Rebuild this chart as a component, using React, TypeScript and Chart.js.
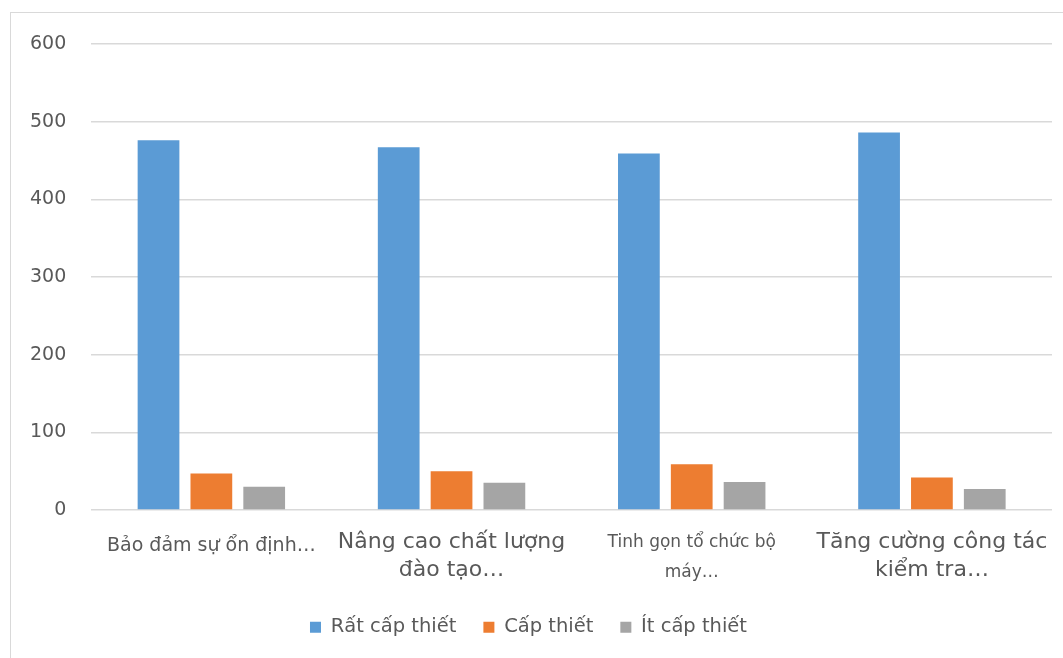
import React, { useEffect, useRef } from "react";
import { Chart, registerables } from "chart.js";

Chart.register(...registerables);

const categories: (string | string[])[] = [
  "Bảo đảm sự ổn định…",
  ["Nâng cao chất lượng", "đào tạo…"],
  ["Tinh gọn tổ chức bộ", "máy…"],
  ["Tăng cường công tác", "kiểm tra…"],
];
const labelSizes = [19, 22, 17, 22];
const labelLineHeights = [1.9, 1.28, 1.75, 1.28];
const seriesNames = ["Rất cấp thiết", "Cấp thiết", "Ít cấp thiết"];
const veryNeeded = [476, 467, 459, 486];
const needed = [47, 50, 59, 42];
const lessNeeded = [30, 35, 36, 27];
const colors = ["#5B9BD5", "#ED7D31", "#A5A5A5"];

export default function App() {
  const ref = useRef<HTMLCanvasElement | null>(null);
  useEffect(() => {
    if (!ref.current) return;
    const font = "'DejaVu Sans', sans-serif";
    const chart = new Chart(ref.current, {
      type: "bar",
      data: {
        labels: categories,
        datasets: [veryNeeded, needed, lessNeeded].map((d, i) => ({
          label: seriesNames[i],
          data: d,
          backgroundColor: colors[i],
          borderWidth: 0,
          categoryPercentage: 0.66,
          barPercentage: 0.79,
        })),
      },
      options: {
        animation: false,
        responsive: false,
        maintainAspectRatio: false,
        layout: { padding: { top: 44, left: 5, right: 11, bottom: 11 } },
        plugins: {
          tooltip: { enabled: false },
          legend: {
            position: "bottom",
            labels: {
              boxWidth: 11,
              boxHeight: 11,
              padding: 27,
              color: "#595959",
              font: { family: font, size: 19.5 },
            },
          },
        },
        scales: {
          x: {
            grid: { display: false },
            border: { display: false },
            afterFit: (s: any) => {
              s.paddingLeft = 0;
              s.paddingRight = 0;
              s.height = 80.5;
            },
            ticks: {
              color: "#595959",
              maxRotation: 0,
              autoSkip: false,
              padding: 10,
              font: (ctx: any) => ({
                family: font,
                size: labelSizes[ctx.index] ?? 16,
                lineHeight: labelLineHeights[ctx.index] ?? 1.3,
              }),
            },
          },
          y: {
            min: 0,
            max: 600,
            border: { display: false },
            grid: { color: "#d9d9d9", lineWidth: 1.5, drawTicks: false },
            ticks: {
              stepSize: 100,
              color: "#595959",
              padding: 25,
              font: { family: font, size: 19 },
            },
          },
        },
      },
    });
    return () => chart.destroy();
  }, []);
  return (
    <div style={{ position: "absolute", left: 0, top: 0, width: 1063, height: 658, background: "#fff", overflow: "hidden" }}>
      <div style={{ position: "absolute", left: 10, top: 12, width: 1060, height: 660, border: "1.5px solid #d9d9d9", boxSizing: "border-box" }} />
      <canvas ref={ref} width={1063} height={658} style={{ position: "absolute", left: 0, top: 0 }} />
    </div>
  );
}
